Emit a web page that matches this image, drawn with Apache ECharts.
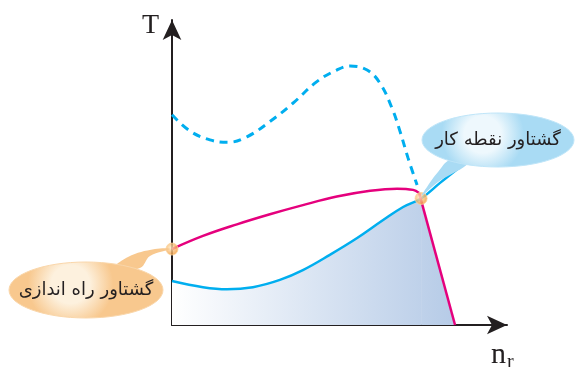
<!DOCTYPE html>
<html>
<head>
<meta charset="utf-8">
<script src="https://cdn.jsdelivr.net/npm/echarts@6/dist/echarts.min.js"></script>
<style>
  html, body { margin: 0; padding: 0; background: #fff; }
  #chart { width: 576px; height: 367px; }
</style>
</head>
<body>
<div id="chart"></div>
<script>
// speed (n_r) vs torque (T), arbitrary units
const loadCurve = [[0, 14.4], [9.3, 12.4], [16.5, 11.7], [24.3, 12.4], [32.4, 14.8], [39.3, 18],
    [47.4, 23], [55.6, 28.5], [63.4, 34.4], [69.4, 38.7], [74.8, 41.5], [80.5, 46.6], [86.5, 51.8]];
const loadShade = [[0, 14.4], [9.3, 12.4], [16.5, 11.7], [24.3, 12.4], [32.4, 14.8], [39.3, 18],
    [47.4, 23], [55.6, 28.5], [63.4, 34.4], [69.4, 38.7], [74.8, 41.5]];
const motorCurve = [[0, 24.9], [9.3, 29.2], [19.5, 33], [29.4, 36.3], [39.3, 39.3], [49.5, 42.1],
    [59.5, 44], [67.6, 44.7], [72.4, 44.3], [74.2, 43.3]];
const motorDrop = [[74.2, 43.3], [85, 0]];
const dropShade = [[74.8, 41.5], [85, 0]];
const idealCurve = [[0, 68.9], [5.4, 63.6], [11.4, 60.7], [16.8, 59.9], [22.5, 61.7], [29.4, 66.7],
    [36.3, 72.7], [43.5, 79.8], [49.5, 83.6], [53.5, 84.9], [58.6, 83.6], [62.5, 79.2],
    [66.1, 71], [68.5, 63.4], [70.9, 54.7], [73.6, 45.9]];
const keyPoints = [[0, 24.9], [74.8, 41.5]];
const pointLabels = ['گشتاور راه اندازی', 'گشتاور نقطه کار'];

const chart = echarts.init(document.getElementById('chart'));

const shadeFill = {
    type: 'linear', x: 172, y: 0, x2: 455, y2: 0, global: true,
    colorStops: [{offset: 0, color: '#ffffff'}, {offset: 1, color: '#b6cbe7'}]
};

const dotStyle = {
    color: {
        type: 'radial', x: 0.4, y: 0.4, r: 0.6,
        colorStops: [{offset: 0, color: '#ffe9c2'}, {offset: 1, color: '#f39a3a'}]
    },
    borderColor: '#fcd49c',
    borderWidth: 1
};

chart.setOption({
    animation: false,
    grid: {left: 172, top: 20, width: 335, height: 305},
    xAxis: {
        type: 'value', min: 0, max: 100.6,
        axisLine: {lineStyle: {color: '#231f20', width: 2}, symbol: ['none', 'arrow'], symbolSize: [14, 20]},
        axisTick: {show: false}, axisLabel: {show: false}, splitLine: {show: false}
    },
    yAxis: {
        type: 'value', min: 0, max: 100,
        axisLine: {lineStyle: {color: '#231f20', width: 2}, symbol: ['none', 'arrow'], symbolSize: [14, 20]},
        axisTick: {show: false}, axisLabel: {show: false}, splitLine: {show: false}
    },
    series: [
        {
            type: 'line', data: loadShade, smooth: 0.4, symbol: 'none', z: 1,
            lineStyle: {width: 0}, areaStyle: {opacity: 1, color: shadeFill}
        },
        {
            type: 'line', data: dropShade, symbol: 'none', z: 1,
            lineStyle: {width: 0}, areaStyle: {opacity: 1, color: shadeFill}
        },
        {
            type: 'line', data: loadCurve, smooth: 0.4, symbol: 'none', z: 3,
            lineStyle: {color: '#00aeef', width: 2.5}
        },
        {
            type: 'line', data: idealCurve, smooth: 0.4, symbol: 'none', z: 3,
            lineStyle: {color: '#00aeef', width: 3, type: [8, 6]}
        },
        {
            type: 'line', data: motorCurve, smooth: 0.4, symbol: 'none', z: 4,
            lineStyle: {color: '#e5007d', width: 2.5}
        },
        {
            type: 'line', data: motorDrop, symbol: 'none', z: 4,
            lineStyle: {color: '#e5007d', width: 2.5}
        },
        {
            type: 'scatter', data: keyPoints, symbolSize: 12, z: 10,
            itemStyle: dotStyle
        }
    ]
});

// callout bubbles, tails anchored on the marked points
const p0 = chart.convertToPixel({gridIndex: 0}, keyPoints[0]);
const p1 = chart.convertToPixel({gridIndex: 0}, keyPoints[1]);

function bubble(cx, cy, rx, ry, tail, inner, outer, edge, text) {
    const fill = {
        type: 'radial', x: 0.4, y: 0.4, r: 0.75,
        colorStops: [{offset: 0, color: inner}, {offset: 0.45, color: inner}, {offset: 1, color: outer}]
    };
    return [
        {type: 'polygon', shape: {points: tail, smooth: 0.4}, style: {fill: outer}, z: 20},
        {
            type: 'ellipse', shape: {cx: cx, cy: cy, rx: rx, ry: ry},
            style: {fill: fill, stroke: edge, lineWidth: 1}, z: 21
        },
        {
            type: 'text', x: cx, y: cy, z: 22,
            style: {
                text: text, fill: '#231f20', font: '18px "DejaVu Sans"',
                align: 'center', verticalAlign: 'middle'
            }
        }
    ];
}

chart.setOption({
    graphic: [
        ...bubble(86, 290, 77, 28,
            [[110, 272], [128, 257], [155, 249], [p0[0] - 2, p0[1]], [150, 256], [140, 268]],
            '#fdf1de', '#f8c88e', '#f9d6aa', pointLabels[0]),
        ...bubble(498, 140, 76, 27,
            [[450, 160], [438, 172], [427, 187], [p1[0] + 1, p1[1] - 3], [438, 182], [468, 163]],
            '#eef8fd', '#a9dbf4', '#bfe5f8', pointLabels[1]),
        {
            type: 'text', x: 142, y: 12, z: 30,
            style: {text: 'T', fill: '#231f20', font: '28px "Liberation Serif"'}
        },
        {
            type: 'text', x: 491, y: 340, z: 30,
            style: {text: 'n', fill: '#231f20', font: '30px "Liberation Serif"'}
        },
        {
            type: 'text', x: 507, y: 353, z: 30,
            style: {text: 'r', fill: '#231f20', font: '20px "Liberation Serif"'}
        }
    ]
});

window.addEventListener('resize', () => {
    chart.resize();
});
</script>
</body>
</html>
